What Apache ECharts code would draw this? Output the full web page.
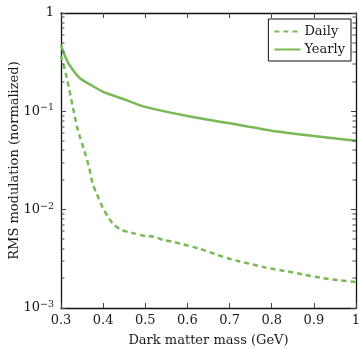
<!DOCTYPE html>
<html>
<head>
<meta charset="utf-8">
<script src="https://cdn.jsdelivr.net/npm/echarts@6/dist/echarts.min.js"></script>
<style>
  html, body { margin: 0; padding: 0; background: #fff; }
  #chart { width: 359px; height: 349px; }
</style>
</head>
<body>
<div id="chart"></div>
<script>
// RMS modulation (normalized) vs dark matter mass, daily and yearly
const massDaily = [0.300, 0.315, 0.328, 0.340, 0.355, 0.367, 0.375, 0.385, 0.400, 0.414, 0.424, 0.442, 0.462, 0.473, 0.500, 0.520, 0.544, 0.564, 0.587, 0.627, 0.666, 0.705, 0.745, 0.784, 0.831, 0.878, 0.917, 0.957, 1.000];
const daily     = [0.370, 0.208, 0.111, 0.0645, 0.0404, 0.0265, 0.0185, 0.0144, 0.0103, 0.00816, 0.00714, 0.00628, 0.00588, 0.00574, 0.00539, 0.00530, 0.00491, 0.00472, 0.00447, 0.00402, 0.00353, 0.00312, 0.00284, 0.00259, 0.00238, 0.00218, 0.00203, 0.00192, 0.00184];

const massYearly = [0.300, 0.310, 0.320, 0.345, 0.375, 0.400, 0.455, 0.500, 0.600, 0.700, 0.800, 0.900, 1.000];
const yearly     = [0.472, 0.362, 0.296, 0.217, 0.181, 0.158, 0.130, 0.111, 0.0896, 0.0755, 0.0635, 0.0561, 0.0502];

const xTicks = [0.3, 0.4, 0.5, 0.6, 0.7, 0.8, 0.9, 1];
const yDecadeLabels = { '1': '1', '0.1': '10|−1', '0.01': '10|−2', '0.001': '10|−3' };

const seriesNames = ['Daily', 'Yearly'];
const green = '#78b956';
const font = 'DejaVu Serif';
const ink = '#1a1a1a';
const tickColor = '#444';

// minor log ticks (2..9 per decade), one entry per side: [x, value, direction]
const minorTicks = [];
for (let e = -3; e < 0; e++) {
  for (let k = 2; k <= 9; k++) {
    const v = k * Math.pow(10, e);
    minorTicks.push([0.3, v, 1]);
    minorTicks.push([1, v, -1]);
  }
}

const chart = echarts.init(document.getElementById('chart'), null, { renderer: 'canvas' });

function yLabel(v) {
  const key = String(+v.toPrecision(3));
  const s = yDecadeLabels[key];
  if (s === undefined) return '';
  const parts = s.split('|');
  if (parts.length === 1) return '{b|' + parts[0] + '}';
  return '{b|' + parts[0] + '}{s|' + parts[1] + '}';
}

const tickStyle = { color: tickColor, width: 1 };
const axisLineStyle = { color: '#111', width: 1.3 };

chart.setOption({
  animation: false,
  backgroundColor: '#fff',
  textStyle: { fontFamily: font },
  grid: { left: 61, right: 3, top: 13, bottom: 41, outerBoundsMode: 'none', containLabel: false },
  legend: {
    data: seriesNames,
    orient: 'vertical',
    right: 8,
    top: 19,
    backgroundColor: '#fff',
    borderColor: '#111',
    borderWidth: 1,
    borderRadius: 0,
    padding: [6, 6, 5, 5],
    itemGap: 5,
    itemWidth: 26,
    itemHeight: 16,
    itemStyle: { opacity: 0 },
    textStyle: { fontFamily: font, fontSize: 13, color: ink, padding: [0, 0, 0, -1] }
  },
  xAxis: [{
    type: 'value', min: 0.3, max: 1, interval: 0.1,
    name: 'Dark matter mass (GeV)', nameLocation: 'middle', nameGap: 26, nameMoveOverlap: false,
    nameTextStyle: { fontFamily: font, fontSize: 13, color: ink },
    axisLine: { show: true, lineStyle: axisLineStyle },
    axisTick: { show: true, inside: true, length: 5, lineStyle: tickStyle },
    axisLabel: {
      fontFamily: font, fontSize: 13, color: ink, margin: 6,
      formatter: v => { const t = xTicks.find(x => Math.abs(x - v) < 1e-9); return t === undefined ? '' : String(t); }
    },
    splitLine: { show: false }
  }, {
    type: 'value', position: 'top', min: 0.3, max: 1, interval: 0.1,
    axisLine: { show: true, lineStyle: axisLineStyle },
    axisTick: { show: true, inside: true, length: 5, lineStyle: tickStyle },
    axisLabel: { show: false },
    splitLine: { show: false }
  }],
  yAxis: [{
    type: 'log', logBase: 10, min: 0.001, max: 1,
    name: 'RMS modulation (normalized)', nameLocation: 'middle', nameGap: 40, nameMoveOverlap: false,
    nameTextStyle: { fontFamily: font, fontSize: 13, color: ink },
    axisLine: { show: true, lineStyle: axisLineStyle },
    axisTick: { show: true, inside: true, length: 5, lineStyle: tickStyle },
    axisLabel: {
      margin: 7,
      formatter: yLabel,
      rich: {
        b: { fontFamily: font, fontSize: 13, color: ink },
        s: { fontFamily: font, fontSize: 9.5, color: ink, padding: [0, 0, 7, 0] }
      }
    },
    splitLine: { show: false }
  }, {
    type: 'log', logBase: 10, min: 0.001, max: 1, position: 'right',
    axisLine: { show: true, lineStyle: axisLineStyle },
    axisTick: { show: true, inside: true, length: 5, lineStyle: tickStyle },
    axisLabel: { show: false },
    splitLine: { show: false }
  }],
  series: [{
    name: 'Daily', type: 'line',
    data: massDaily.map((m, i) => [m, daily[i]]),
    smooth: 0.25, showSymbol: false, symbol: 'none',
    lineStyle: { color: green, width: 2.5, type: [5, 4] },
    itemStyle: { color: green },
    z: 3
  }, {
    name: 'Yearly', type: 'line',
    data: massYearly.map((m, i) => [m, yearly[i]]),
    smooth: 0.25, showSymbol: false, symbol: 'none',
    lineStyle: { color: green, width: 2.5 },
    itemStyle: { color: green },
    z: 3
  }, {
    // minor ticks on left and right edges
    type: 'custom',
    data: minorTicks,
    silent: true,
    clip: false,
    xAxisIndex: 0,
    yAxisIndex: 0,
    encode: { x: 0, y: 1 },
    renderItem: function (params, api) {
      const p = api.coord([api.value(0), api.value(1)]);
      const dir = api.value(2);
      const len = 3.5;
      const y = Math.round(p[1]);
      return {
        type: 'rect',
        shape: { x: dir > 0 ? p[0] : p[0] - len, y: y - 0.5, width: len, height: 1 },
        style: { fill: tickColor },
        z2: 10
      };
    },
    z: 4
  }]
});
</script>
</body>
</html>
